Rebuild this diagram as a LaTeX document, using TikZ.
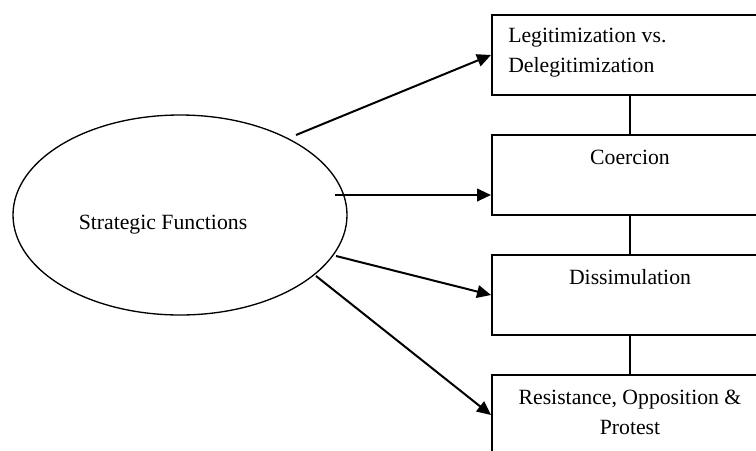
\documentclass[tikz,border=0pt]{standalone}
\usepackage{fontspec}
\setmainfont{Liberation Serif}
\usetikzlibrary{positioning, arrows.meta, shapes.geometric}

\begin{document}
\begin{tikzpicture}[x=0.75pt, y=-0.75pt,
        every node/.style={font=\fontsize{16.3}{22.5}\selectfont},
        funcbox/.style={draw, line width=1.5pt, minimum width=207pt, minimum height=60pt, inner sep=0pt},
        boxtext/.style={inner sep=0pt},
        arr/.style={line width=1.5pt, -{Triangle[length=10.5pt, width=9.5pt]}},
        node distance=28.5pt]

        \useasboundingbox (0,0) rectangle (756,450);

        \node[draw, ellipse, line width=1pt, minimum width=250.5pt, minimum height=150pt, inner sep=0pt] (strat) at (180,215) {};

        \node[xshift=-12.75pt, yshift=-7.5pt] (strattxt) at (strat) {Strategic Functions};

        \node[funcbox] (legit) at (630,55) {};
        \node[funcbox, below=of legit] (coerc) {};
        \node[funcbox, below=of coerc] (dissim) {};
        \node[funcbox, below=of dissim] (resist) {};

        \node[boxtext, anchor=north west, align=left] (legittxt) at ([xshift=12.75pt, yshift=-10.5pt]legit.north west) {Legitimization vs.\\Delegitimization};

        \node[boxtext, anchor=north] (coerctxt) at ([yshift=-12pt]coerc.north) {Coercion};

        \node[boxtext, anchor=north] (dissimtxt) at ([yshift=-11.5pt]dissim.north) {Dissimulation};

        \node[boxtext, anchor=north, align=center] (resisttxt) at ([yshift=-12pt]resist.north) {Resistance, Opposition \&\\Protest};

        % links between the boxes
        \draw[line width=1.5pt] (legit) -- (coerc);
        \draw[line width=1.5pt] (coerc) -- (dissim);
        \draw[line width=1.5pt] (dissim) -- (resist);

        \coordinate (s1) at (296,135);
        \coordinate (s2) at (335,195);
        \coordinate (s3) at (336,256);
        \coordinate (s4) at (316,276);

        \draw[arr] (s1) -- (legit.west);
        \draw[arr] (s2) -- (s2 -| coerc.west);
        \draw[arr] (s3) -- (dissim.west);
        \draw[arr] (s4) -- (resist.west);
    \end{tikzpicture}
\end{document}
